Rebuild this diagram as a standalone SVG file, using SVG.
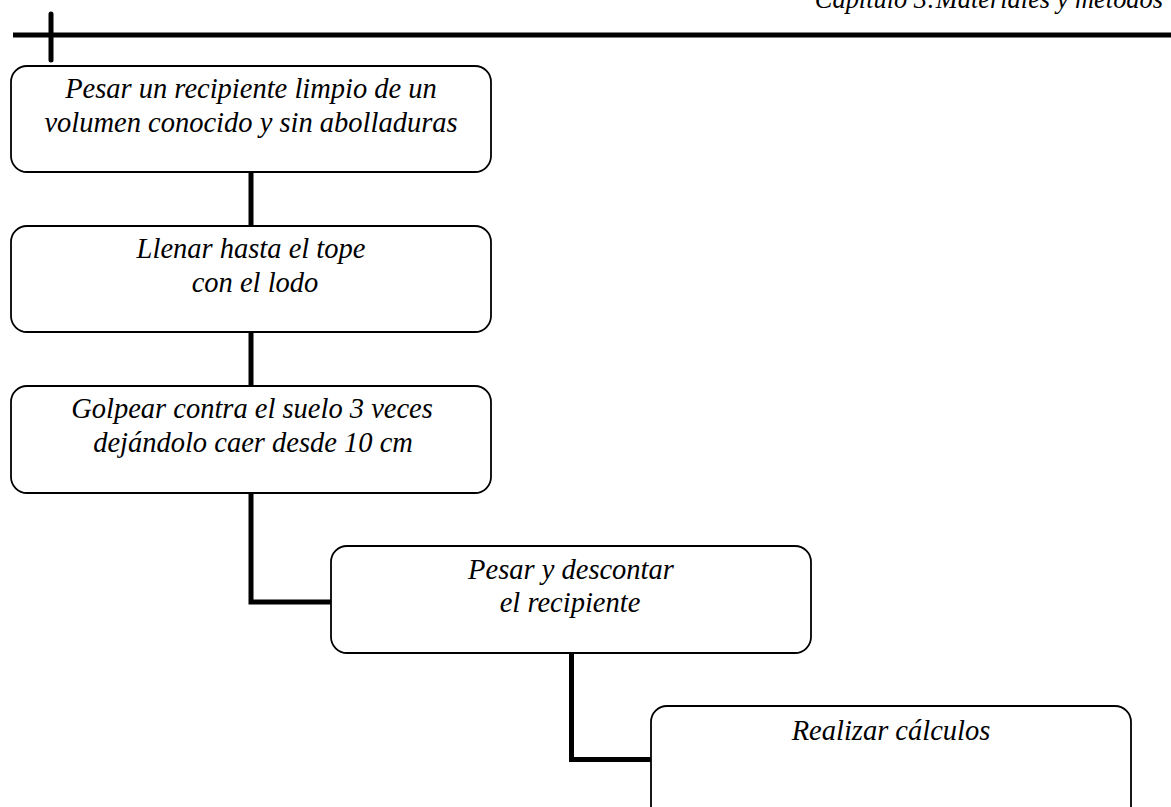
<svg xmlns="http://www.w3.org/2000/svg" width="1171" height="807" viewBox="0 0 1171 807">
<style>
.box{fill:#fff;stroke:#000;stroke-width:1.8}
.t{font-family:"Liberation Serif","Times New Roman",serif;font-style:italic;font-size:28.5px;fill:#000;text-anchor:middle}
.c{fill:none;stroke:#000;stroke-width:5}
</style>
<rect width="1171" height="807" fill="#fff"/>
<g id="header">
<text x="1163" y="8" font-family="Liberation Serif, serif" font-style="italic" font-size="26.4" text-anchor="end">Capítulo 3:Materiales y métodos</text>
<line x1="13" y1="35" x2="1171" y2="35" stroke="#000" stroke-width="5"/>
<line x1="51" y1="14" x2="51" y2="60" stroke="#000" stroke-width="5" stroke-linecap="round"/>
</g>
<g id="connectors">
<line class="c" x1="251" y1="172" x2="251" y2="226"/>
<line class="c" x1="251" y1="332" x2="251" y2="386"/>
<polyline class="c" points="251,493 251,602 331,602"/>
<polyline class="c" points="571.5,653 571.5,759.5 651,759.5"/>
</g>
<g id="n1">
<rect class="box" x="11" y="66" width="480" height="106" rx="16"/>
<text class="t" x="251" y="98">Pesar un recipiente limpio de un</text>
<text class="t" x="251" y="132">volumen conocido y sin abolladuras</text>
</g>
<g id="n2">
<rect class="box" x="11" y="226" width="480" height="106" rx="16"/>
<text class="t" x="251" y="258">Llenar hasta el tope</text>
<text class="t" x="255" y="292">con el lodo</text>
</g>
<g id="n3">
<rect class="box" x="11" y="386" width="480" height="107" rx="16"/>
<text class="t" x="252" y="418">Golpear contra el suelo 3 veces</text>
<text class="t" x="253" y="452">dejándolo caer desde 10 cm</text>
</g>
<g id="n4">
<rect class="box" x="331" y="546" width="480" height="107" rx="16"/>
<text class="t" x="571" y="579">Pesar y descontar</text>
<text class="t" x="570" y="612">el recipiente</text>
</g>
<g id="n5">
<rect class="box" x="651" y="706" width="480" height="120" rx="16"/>
<text class="t" x="891" y="740">Realizar cálculos</text>
</g>
</svg>
